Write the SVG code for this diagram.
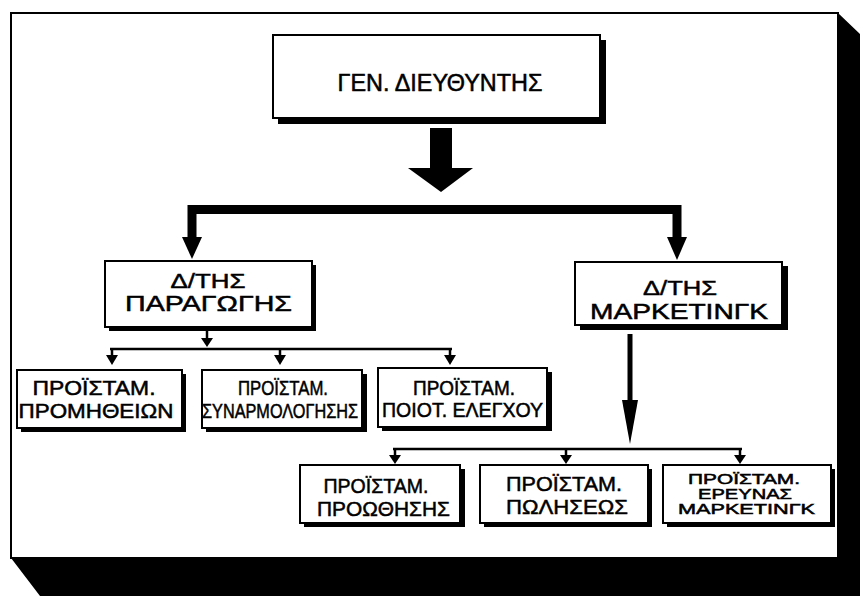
<svg xmlns="http://www.w3.org/2000/svg" width="860" height="596" viewBox="0 0 860 596">
  <style>
    .panel { fill: #ffffff; stroke: #000000; stroke-width: 2; }
    .shade { fill: #000000; }
    .box { fill: #ffffff; stroke: #000000; stroke-width: 2; }
    .drop { fill: #000000; }
    .lbl { font-family: "Liberation Sans", Arial, sans-serif; fill: #000000; text-anchor: middle; stroke: #000000; stroke-width: 0.5; }
    .thick { fill: none; stroke: #000000; stroke-width: 9; stroke-linejoin: miter; }
    .thin { fill: none; stroke: #000000; stroke-width: 2.5; }
    .head { fill: #000000; }
  </style>

  <!-- background page with its heavy drop shadow -->
  <rect x="0" y="0" width="860" height="596" fill="#ffffff"/>
  <polygon class="shade" points="838,13 860,34 860,596 40,596 11,558 838,558"/>
  <rect class="panel" x="11" y="13" width="827" height="545"/>

  <!-- connectors -->
  <g id="connectors">
    <!-- big arrow under the general manager -->
    <polygon class="head" points="430,128 452,128 452,168 473,168 441,192 408,168 430,168"/>
    <!-- thick split bar to the two directors -->
    <polyline class="thick" points="192,238 192,209.5 677,209.5 677,238"/>
    <polygon class="head" points="182,237 202,237 192,259"/>
    <polygon class="head" points="667,237 687,237 677,260"/>

    <!-- production branch -->
    <line class="thin" x1="207" y1="330" x2="207" y2="340"/>
    <polygon class="head" points="201,338 213,338 207,347"/>
    <line class="thin" x1="110" y1="349" x2="452" y2="349"/>
    <line class="thin" x1="112" y1="349" x2="112" y2="357"/>
    <polygon class="head" points="106,355 118,355 112,365"/>
    <line class="thin" x1="280" y1="349" x2="280" y2="357"/>
    <polygon class="head" points="274,355 286,355 280,365"/>
    <line class="thin" x1="450" y1="349" x2="450" y2="357"/>
    <polygon class="head" points="444,355 456,355 450,365"/>

    <!-- marketing branch -->
    <line x1="630" y1="334" x2="630" y2="402" stroke="#000000" stroke-width="5"/>
    <polygon class="head" points="622,400 638,400 630,444"/>
    <line class="thin" x1="393" y1="449" x2="742" y2="449"/>
    <line class="thin" x1="395" y1="449" x2="395" y2="457"/>
    <polygon class="head" points="389,455 401,455 395,464"/>
    <line class="thin" x1="566" y1="449" x2="566" y2="457"/>
    <polygon class="head" points="560,455 572,455 566,464"/>
    <line class="thin" x1="740" y1="449" x2="740" y2="457"/>
    <polygon class="head" points="734,455 746,455 740,464"/>
  </g>

  <!-- general manager -->
  <g id="gen-director">
    <rect class="drop" x="278" y="40" width="328" height="84"/>
    <rect class="box" x="273" y="35" width="327" height="83"/>
    <text class="lbl" x="440" y="91" font-size="23" textLength="205" lengthAdjust="spacingAndGlyphs">ΓΕΝ. ΔΙΕΥΘΥΝΤΗΣ</text>
  </g>

  <!-- production director -->
  <g id="dir-production">
    <rect class="drop" x="109" y="265" width="207" height="66"/>
    <rect class="box" x="105" y="261" width="207" height="66"/>
    <text class="lbl" x="208" y="288" font-size="21" textLength="75" lengthAdjust="spacingAndGlyphs">Δ/ΤΗΣ</text>
    <text class="lbl" x="208.5" y="311" font-size="22" textLength="167" lengthAdjust="spacingAndGlyphs">ΠΑΡΑΓΩΓΗΣ</text>
  </g>

  <!-- marketing director -->
  <g id="dir-marketing">
    <rect class="drop" x="580" y="266" width="208" height="64"/>
    <rect class="box" x="575" y="262" width="207" height="63"/>
    <text class="lbl" x="680" y="295" font-size="21" textLength="74" lengthAdjust="spacingAndGlyphs">Δ/ΤΗΣ</text>
    <text class="lbl" x="679" y="319" font-size="22" textLength="178" lengthAdjust="spacingAndGlyphs">ΜΑΡΚΕΤΙΝΓΚ</text>
  </g>

  <!-- production supervisors -->
  <g id="sup-supplies">
    <rect class="drop" x="21" y="374" width="165" height="58"/>
    <rect class="box" x="17" y="370" width="165" height="58"/>
    <text class="lbl" x="94" y="395" font-size="20" textLength="123" lengthAdjust="spacingAndGlyphs">ΠΡΟΪΣΤΑΜ.</text>
    <text class="lbl" x="96" y="418" font-size="20" textLength="155" lengthAdjust="spacingAndGlyphs">ΠΡΟΜΗΘΕΙΩΝ</text>
  </g>

  <g id="sup-assembly">
    <rect class="drop" x="206" y="374" width="161" height="58"/>
    <rect class="box" x="202" y="370" width="160" height="58"/>
    <text class="lbl" x="283" y="395" font-size="20" textLength="90" lengthAdjust="spacingAndGlyphs">ΠΡΟΪΣΤΑΜ.</text>
    <text class="lbl" x="280" y="418" font-size="20" textLength="156" lengthAdjust="spacingAndGlyphs">ΣΥΝΑΡΜΟΛΟΓΗΣΗΣ</text>
  </g>

  <g id="sup-quality">
    <rect class="drop" x="382" y="372" width="170" height="59"/>
    <rect class="box" x="378" y="368" width="169" height="59"/>
    <text class="lbl" x="464" y="395" font-size="20" textLength="102" lengthAdjust="spacingAndGlyphs">ΠΡΟΪΣΤΑΜ.</text>
    <text class="lbl" x="462.5" y="417" font-size="20" textLength="161" lengthAdjust="spacingAndGlyphs">ΠΟΙΟΤ. ΕΛΕΓΧΟΥ</text>
  </g>

  <!-- marketing supervisors -->
  <g id="sup-promotion">
    <rect class="drop" x="304" y="469" width="161" height="58"/>
    <rect class="box" x="300" y="465" width="160" height="58"/>
    <text class="lbl" x="376" y="493" font-size="20" textLength="105" lengthAdjust="spacingAndGlyphs">ΠΡΟΪΣΤΑΜ.</text>
    <text class="lbl" x="383.5" y="516" font-size="20" textLength="133" lengthAdjust="spacingAndGlyphs">ΠΡΟΩΘΗΣΗΣ</text>
  </g>

  <g id="sup-sales">
    <rect class="drop" x="484" y="469" width="168" height="58"/>
    <rect class="box" x="480" y="465" width="168" height="58"/>
    <text class="lbl" x="564" y="491" font-size="20" textLength="116" lengthAdjust="spacingAndGlyphs">ΠΡΟΪΣΤΑΜ.</text>
    <text class="lbl" x="567" y="514" font-size="20" textLength="122" lengthAdjust="spacingAndGlyphs">ΠΩΛΗΣΕΩΣ</text>
  </g>

  <g id="sup-research">
    <rect class="drop" x="667" y="469" width="168" height="58"/>
    <rect class="box" x="663" y="465" width="168" height="58"/>
    <text class="lbl" x="744" y="484" font-size="14" textLength="112" lengthAdjust="spacingAndGlyphs">ΠΡΟΪΣΤΑΜ.</text>
    <text class="lbl" x="745" y="499" font-size="14" textLength="94" lengthAdjust="spacingAndGlyphs">ΕΡΕΥΝΑΣ</text>
    <text class="lbl" x="746.5" y="514" font-size="14" textLength="137" lengthAdjust="spacingAndGlyphs">ΜΑΡΚΕΤΙΝΓΚ</text>
  </g>
</svg>
